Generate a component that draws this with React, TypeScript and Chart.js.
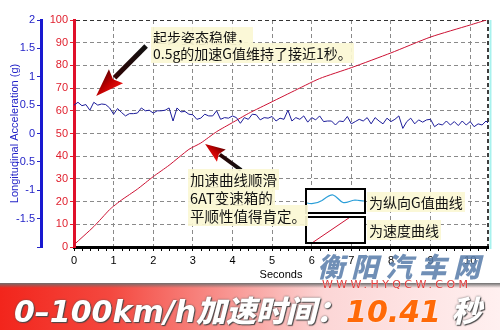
import React, { useEffect, useRef } from "react";
import { Chart, registerables } from "chart.js";

Chart.register(...registerables);

// ---- data ----
const SPEED_TIMES = [0, 0.5, 0.9, 1.0, 1.2, 1.6, 2.0, 2.4, 2.9, 3.2, 3.6, 4.0, 4.4, 5.0, 5.5, 6.2, 7.0, 8.0, 9.0, 10.0, 10.41];
const SPEED_KMH = [1, 9, 16.5, 18, 20.7, 25.5, 31, 36, 43, 45.8, 50.8, 54.8, 58.8, 64, 68.3, 74.2, 79, 85.5, 92.5, 97.8, 100];

const G_SAMPLE_STEP = 0.1; // seconds between G samples
const G_VALUES = [
  0.50, 0.55, 0.49, 0.51, 0.41, 0.55, 0.50, 0.52, 0.51, 0.45,
  0.34, 0.44, 0.37, 0.31, 0.35, 0.35, 0.36, 0.45, 0.40, 0.41,
  0.36, 0.40, 0.40, 0.41, 0.45, 0.22, 0.45, 0.38, 0.39, 0.34,
  0.33, 0.25, 0.27, 0.34, 0.31,
  0.31, 0.40, 0.25, 0.28, 0.27, 0.31, 0.28, 0.18, 0.28, 0.25,
  0.34, 0.33, 0.24, 0.28, 0.27, 0.30, 0.22, 0.27, 0.25, 0.41,
  0.22, 0.28, 0.25, 0.31, 0.20, 0.28, 0.24, 0.31, 0.21, 0.22,
  0.22, 0.15, 0.22, 0.21, 0.30, 0.17,
  0.21, 0.25, 0.22, 0.28, 0.17, 0.28, 0.22, 0.17, 0.27, 0.21,
  0.25, 0.31, 0.09, 0.21, 0.27, 0.17, 0.24, 0.20, 0.24, 0.25,
  0.12, 0.17, 0.15, 0.22, 0.15, 0.21, 0.14, 0.22, 0.15, 0.21,
  0.12, 0.17, 0.15, 0.22, 0.15,
];

const X_MAX = 10.45;
const X_STEP = 1;
const SPEED_MIN = 0;
const SPEED_MAX = 100;
const SPEED_STEP = 10;
const G_MIN = -2;
const G_MAX = 2;
const G_STEP = 0.5;

// annotation arrows in data space: [time, km/h]
const ARROW_1 = { from: [1.82, 88.5], to: [0.56, 66.5] };
const ARROW_2 = { from: [4.22, 33.9], to: [3.31, 45.4] };

const CJK = '"Noto Sans CJK SC", "Noto Sans", sans-serif';

function drawArrow(ctx: CanvasRenderingContext2D, x1: number, y1: number, x2: number, y2: number, shaft: number, headLen: number, headW: number) {
  const ang = Math.atan2(y2 - y1, x2 - x1);
  const len = Math.hypot(x2 - x1, y2 - y1);
  ctx.save();
  ctx.translate(x1, y1);
  ctx.rotate(ang);
  const g = ctx.createLinearGradient(0, 0, len, 0);
  g.addColorStop(0, "#111");
  g.addColorStop(0.55, "#2a0505");
  g.addColorStop(1, "#8a0000");
  ctx.fillStyle = g;
  ctx.beginPath();
  ctx.moveTo(0, -shaft / 2);
  ctx.lineTo(len - headLen + 2, -shaft / 2);
  ctx.lineTo(len - headLen + 2, shaft / 2);
  ctx.lineTo(0, shaft / 2);
  ctx.closePath();
  ctx.fill();
  const hg = ctx.createLinearGradient(0, -headW / 2, 0, headW / 2);
  hg.addColorStop(0, "#e81010");
  hg.addColorStop(0.5, "#c00000");
  hg.addColorStop(1, "#6a0000");
  ctx.fillStyle = hg;
  ctx.beginPath();
  ctx.moveTo(len, 0);
  ctx.lineTo(len - headLen, -headW / 2);
  ctx.lineTo(len - headLen * 0.85, 0);
  ctx.lineTo(len - headLen, headW / 2);
  ctx.closePath();
  ctx.fill();
  ctx.restore();
}

const decoPlugin = {
  id: "deco",
  afterDraw(chart: any) {
    const { ctx, chartArea, scales } = chart;
    const xs = scales.x;
    const ys = scales.ySpeed;
    ctx.save();
    // right border: dashed black + cyan
    ctx.strokeStyle = "#000";
    ctx.lineWidth = 1.5;
    ctx.setLineDash([4, 3]);
    ctx.beginPath();
    ctx.moveTo(chartArea.right, chartArea.top);
    ctx.lineTo(chartArea.right, chartArea.bottom);
    ctx.stroke();
    ctx.setLineDash([]);
    ctx.strokeStyle = "#a8f2ee";
    ctx.lineWidth = 2;
    ctx.beginPath();
    ctx.moveTo(chartArea.right + 2.5, chartArea.top);
    ctx.lineTo(chartArea.right + 2.5, chartArea.bottom + 2);
    ctx.stroke();
    // minor ticks under x axis
    ctx.strokeStyle = "#000";
    ctx.lineWidth = 1;
    for (let v = 0.2; v < X_MAX; v += 0.2) {
      if (Math.abs(v - Math.round(v)) < 0.01) continue;
      const px = Math.round(xs.getPixelForValue(v)) + 0.5;
      ctx.beginPath();
      ctx.moveTo(px, chartArea.bottom + 1.5);
      ctx.lineTo(px, chartArea.bottom + 4);
      ctx.stroke();
    }
    // arrows
    drawArrow(ctx, xs.getPixelForValue(ARROW_1.from[0]), ys.getPixelForValue(ARROW_1.from[1]),
      xs.getPixelForValue(ARROW_1.to[0]), ys.getPixelForValue(ARROW_1.to[1]), 5, 28, 20);
    drawArrow(ctx, xs.getPixelForValue(ARROW_2.from[0]), ys.getPixelForValue(ARROW_2.from[1]),
      xs.getPixelForValue(ARROW_2.to[0]), ys.getPixelForValue(ARROW_2.to[1]), 4, 20, 15);

    // legend boxes
    ctx.fillStyle = "#fff";
    ctx.fillRect(306, 189, 59, 24);
    ctx.fillRect(306, 217, 59, 26);
    // wave sample
    ctx.save();
    ctx.beginPath();
    ctx.rect(307, 190, 57, 22);
    ctx.clip();
    ctx.strokeStyle = "#2a9ed8";
    ctx.lineWidth = 1.2;
    ctx.beginPath();
    ctx.moveTo(307, 203);
    ctx.bezierCurveTo(314, 205, 318, 203, 322, 200.5);
    ctx.bezierCurveTo(327, 197, 330, 194.5, 333, 195);
    ctx.bezierCurveTo(337, 196, 339, 201, 343, 202.5);
    ctx.bezierCurveTo(347, 203.5, 350, 200.5, 355, 200);
    ctx.bezierCurveTo(359, 200, 361, 201, 364, 201);
    ctx.stroke();
    ctx.restore();
    // red sample
    ctx.save();
    ctx.beginPath();
    ctx.rect(307, 218, 57, 24);
    ctx.clip();
    ctx.strokeStyle = "#cc1133";
    ctx.lineWidth = 1;
    ctx.beginPath();
    ctx.moveTo(309, 245);
    ctx.lineTo(351, 216.5);
    ctx.stroke();
    ctx.restore();
    ctx.strokeStyle = "#000";
    ctx.lineWidth = 2;
    ctx.strokeRect(306, 189, 59, 24);
    ctx.strokeRect(306, 217, 59, 26);
    ctx.restore();
  },
};

export default function App() {
  const ref = useRef<HTMLCanvasElement | null>(null);

  useEffect(() => {
    if (!ref.current) return;
    Chart.defaults.font.family = '"Liberation Sans", Arial, sans-serif';
    const gData = G_VALUES.map((g, i) => ({ x: i * G_SAMPLE_STEP, y: g }));
    const sData = SPEED_TIMES.map((t, i) => ({ x: t, y: SPEED_KMH[i] }));
    const chart = new Chart(ref.current, {
      type: "line",
      data: {
        datasets: [
          {
            label: "Longitudinal G",
            data: gData,
            yAxisID: "yG",
            borderColor: "#1c1c9a",
            borderWidth: 1,
            pointRadius: 0,
            tension: 0,
          },
          {
            label: "Speed",
            data: sData,
            yAxisID: "ySpeed",
            borderColor: "#cc1133",
            borderWidth: 1,
            pointRadius: 0,
            tension: 0.2,
          },
        ],
      },
      options: {
        animation: false,
        responsive: false,
        layout: { padding: { top: 20, right: 12, left: 0, bottom: 0 } },
        plugins: { legend: { display: false }, tooltip: { enabled: false } },
        scales: {
          x: {
            type: "linear",
            min: 0,
            max: X_MAX,
            ticks: { stepSize: X_STEP, includeBounds: false, color: "#000", font: { size: 11 }, padding: 3, maxRotation: 0 },
            grid: { color: "#8a8a8a", tickColor: "#000", tickLength: 4, lineWidth: 1 },
            border: { color: "#000", width: 3, dash: [4, 3] },
            title: { display: true, text: "Seconds", color: "#000", font: { size: 11 }, padding: { top: 1, bottom: 1 } },
            afterFit: (s: any) => { s.height = 36; },
          },
          ySpeed: {
            type: "linear",
            position: "left",
            weight: 0,
            min: SPEED_MIN,
            max: SPEED_MAX,
            ticks: { stepSize: SPEED_STEP, color: "#e0202e", font: { size: 11 }, padding: 2 },
            grid: {
              color: (c: any) => (c.tick && c.tick.value === SPEED_MAX ? "#333" : "#8a8a8a"),
              tickColor: "#e0202e",
              tickLength: 4,
            },
            border: { color: "#e0102a", width: 3, dash: [4, 3] },
            afterFit: (s: any) => { s.width = 33; },
          },
          yG: {
            type: "linear",
            position: "left",
            weight: 1,
            min: G_MIN,
            max: G_MAX,
            ticks: {
              stepSize: G_STEP,
              color: "#2424c8",
              font: { size: 11 },
              padding: 2,
              callback: (v: any) => (Number(v) === G_MIN ? "" : String(v)),
            },
            grid: { drawOnChartArea: false, tickColor: "#2424c8", tickLength: 4 },
            border: { color: "#1818d0", width: 3 },
            title: {
              display: true,
              text: "Longitudinal Acceleration (g)",
              color: "#2424c8",
              font: { size: 11 },
              padding: { top: 8, bottom: 0 },
            },
            afterFit: (s: any) => { s.width = 41; },
          },
        },
      },
      plugins: [decoPlugin],
    } as any);
    return () => chart.destroy();
  }, []);

  const lineBg = "rgba(251, 247, 212, 0.92)";

  return (
    <div style={{ position: "absolute", left: 0, top: 0, width: 500, height: 330, background: "#fff", overflow: "hidden" }}>
      <canvas ref={ref} width={500} height={283} style={{ position: "absolute", left: 0, top: 0, width: 500, height: 283 }} />

      {/* annotation 1 */}
      <div style={{ position: "absolute", left: 151, top: 29, fontFamily: CJK, fontSize: 14, lineHeight: "16px", color: "#111", whiteSpace: "nowrap" }}>
        <div><span style={{ background: lineBg, padding: "0 2px" }}>起步姿态稳健，</span></div>
        <div><span style={{ background: lineBg, padding: "0 2px" }}>0.5g的加速G值维持了接近1秒。</span></div>
      </div>

      {/* annotation 2 */}
      <div style={{ position: "absolute", left: 188, top: 171, fontFamily: CJK, fontSize: 14.5, lineHeight: "18px", color: "#111", whiteSpace: "nowrap" }}>
        <div><span style={{ background: lineBg, padding: "0 2px" }}>加速曲线顺滑</span></div>
        <div><span style={{ background: lineBg, padding: "0 2px" }}>6AT变速箱的</span></div>
        <div><span style={{ background: lineBg, padding: "0 2px" }}>平顺性值得肯定。</span></div>
      </div>

      {/* legend texts */}
      <div style={{ position: "absolute", left: 367, top: 194, fontFamily: CJK, fontSize: 14, lineHeight: "16px", color: "#111", whiteSpace: "nowrap" }}>
        <span style={{ background: lineBg, padding: "0 2px" }}>为纵向G值曲线</span>
      </div>
      <div style={{ position: "absolute", left: 367, top: 222, fontFamily: CJK, fontSize: 14, lineHeight: "16px", color: "#111", whiteSpace: "nowrap" }}>
        <span style={{ background: lineBg, padding: "0 2px" }}>为速度曲线</span>
      </div>

      {/* watermark */}
      <div style={{ position: "absolute", left: 320, top: 250, fontFamily: CJK, fontSize: 27, fontWeight: 900, color: "rgba(92,128,172,0.88)", letterSpacing: 7, whiteSpace: "nowrap", lineHeight: "32px", transform: "skewX(-14deg)" }}>
        衡阳汽车网
      </div>

      {/* banner */}
      <div style={{ position: "absolute", left: 0, top: 283, width: 500, height: 47, background: "linear-gradient(90deg, #f2251c 0%, #f4483f 22%, #f8938f 45%, #fcd6d6 65%, #fff0f0 100%)" }}>
        <div style={{ position: "absolute", left: 0, top: 0, width: 500, height: 5, background: "linear-gradient(#6e6e6e, rgba(140,140,140,0))" }} />
      </div>
      <div style={{ position: "absolute", left: 322, top: 278, fontFamily: '"DejaVu Sans", sans-serif', fontSize: 11, letterSpacing: 3.4, color: "#e23a3a", whiteSpace: "nowrap", lineHeight: "14px", textShadow: "0 0 1px #fff" }}>
        WWW.HYQCW.COM
      </div>
      <div style={{ position: "absolute", left: 14, top: 294, fontFamily: '"DejaVu Sans", "Noto Sans CJK SC", sans-serif', fontSize: 30, fontWeight: 900, fontStyle: "italic", lineHeight: "36px", whiteSpace: "nowrap" }}>
        <span style={{ color: "#fff", textShadow: "0 0 2px #555, 1px 1px 1px #444" }}>0–100km/h加速时间：</span>
        <span style={{ color: "#ff6a08", textShadow: "0 0 2px #fff" }}>10.41</span>
        <span style={{ color: "#fff", textShadow: "0 0 2px #555, 1px 1px 1px #444" }}> 秒</span>
      </div>
    </div>
  );
}
